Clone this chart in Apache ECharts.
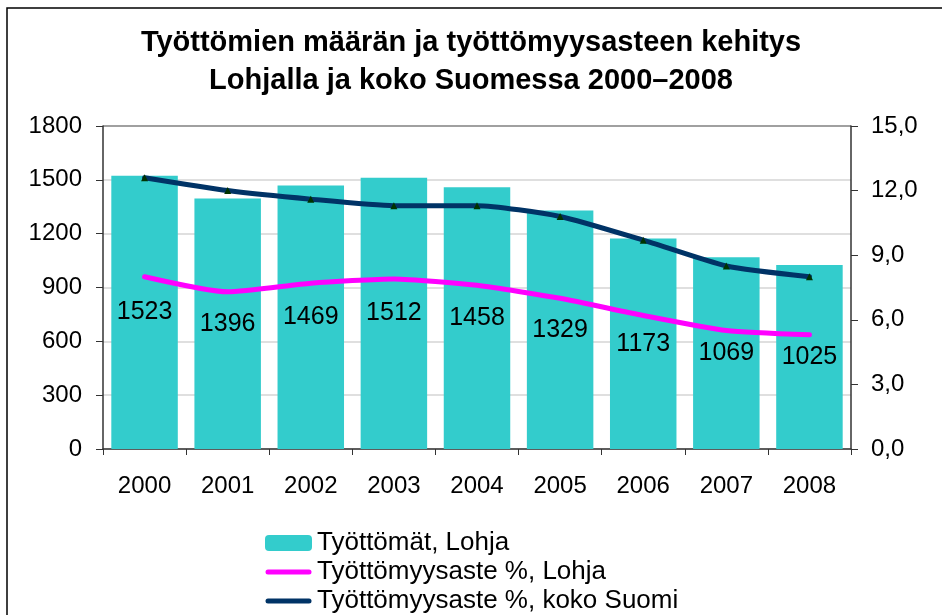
<!DOCTYPE html>
<html>
<head>
<meta charset="utf-8">
<script src="https://cdn.jsdelivr.net/npm/echarts@6/dist/echarts.min.js"></script>
<style>
  html, body { margin: 0; padding: 0; background: #fff; }
  #chart { width: 942px; height: 615px; }
</style>
</head>
<body>
<div id="chart"></div>
<script>
// Vuodet ja arvot
const vuodet = ['2000', '2001', '2002', '2003', '2004', '2005', '2006', '2007', '2008'];
const tyottomatLohja = [1523, 1396, 1469, 1512, 1458, 1329, 1173, 1069, 1025];
const asteLohja = [8.0, 7.3, 7.7, 7.9, 7.6, 7.0, 6.2, 5.5, 5.3];
const asteSuomi = [12.6, 12.0, 11.6, 11.3, 11.3, 10.8, 9.7, 8.5, 8.0];

const fontti = 'Arial, "Liberation Sans", sans-serif';
// legendan viivakuvake (paksu viiva pyöristetyin päin)
const viivaIkoni = 'path://M0,0L0,0M47,16L47,16M3,5.5A2.5,2.5,0,0,0,3,10.5L44,10.5A2.5,2.5,0,0,0,44,5.5Z';

const chart = echarts.init(document.getElementById('chart'));
const option = {
    backgroundColor: '#fff',
    animation: false,
    textStyle: { fontFamily: fontti, color: '#000' },
    title: {
        text: 'Työttömien määrän ja työttömyysasteen kehitys\nLohjalla ja koko Suomessa 2000–2008',
        left: 'center',
        top: 19,
        textStyle: {
            fontFamily: fontti,
            fontSize: 29,
            fontWeight: 'bold',
            color: '#000',
            lineHeight: 38
        }
    },
    graphic: [{
        type: 'rect',
        shape: { x: 7, y: 8, width: 960, height: 640 },
        style: { fill: 'none', stroke: '#000', lineWidth: 1.5 },
        silent: true
    }],
    legend: {
        orient: 'vertical',
        left: 265,
        top: 530,
        padding: 0,
        itemGap: 3,
        itemWidth: 47,
        itemHeight: 16,
        textStyle: { fontFamily: fontti, fontSize: 26, color: '#000' },
        data: [
            { name: 'Työttömät, Lohja' },
            { name: 'Työttömyysaste %, Lohja', icon: viivaIkoni },
            { name: 'Työttömyysaste %, koko Suomi', icon: viivaIkoni, itemStyle: { color: '#003366' } }
        ]
    },
    grid: { left: 103, right: 91, top: 126, bottom: 166 },
    xAxis: {
        type: 'category',
        data: vuodet,
        axisLine: { lineStyle: { color: '#333', width: 1.5 } },
        axisTick: { show: true, length: 6, lineStyle: { color: '#333' } },
        axisLabel: { fontSize: 24, color: '#000', margin: 25, fontFamily: fontti }
    },
    yAxis: [{
        type: 'value',
        min: 0,
        max: 1800,
        interval: 300,
        axisLine: { show: true, lineStyle: { color: '#333', width: 1.5 } },
        axisTick: { show: true, length: 7, lineStyle: { color: '#333' } },
        axisLabel: { fontSize: 24, color: '#000', margin: 21, fontFamily: fontti, formatter: v => String(v) },
        splitLine: {
            lineStyle: {
                color: ['#d4d4d4', '#d4d4d4', '#d4d4d4', '#d4d4d4', '#d4d4d4', '#d4d4d4', '#808080'],
                width: 1.5
            }
        }
    }, {
        type: 'value',
        min: 0,
        max: 15,
        interval: 3,
        position: 'right',
        axisLine: { show: true, lineStyle: { color: '#333', width: 1.5 } },
        axisTick: { show: true, length: 7, lineStyle: { color: '#333' } },
        axisLabel: {
            fontSize: 24, color: '#000', margin: 20, fontFamily: fontti,
            formatter: v => v.toFixed(1).replace('.', ',')
        },
        splitLine: { show: false }
    }],
    series: [{
        name: 'Työttömät, Lohja',
        type: 'bar',
        data: tyottomatLohja,
        barCategoryGap: '20%',
        itemStyle: { color: '#33CCCC' },
        label: {
            show: true,
            position: 'inside',
            fontSize: 25,
            color: '#000',
            fontFamily: fontti
        }
    }, {
        name: 'Työttömyysaste %, Lohja',
        type: 'line',
        yAxisIndex: 1,
        data: asteLohja,
        smooth: 0.2,
        showSymbol: false,
        symbol: 'none',
        lineStyle: { color: '#FF00FF', width: 5, cap: 'round' },
        itemStyle: { color: '#FF00FF' }
    }, {
        name: 'Työttömyysaste %, koko Suomi',
        type: 'line',
        yAxisIndex: 1,
        data: asteSuomi,
        smooth: 0.2,
        symbol: 'triangle',
        symbolSize: 7,
        lineStyle: { color: '#003366', width: 5, cap: 'round' },
        itemStyle: { color: '#003300', borderWidth: 0 }
    }]
};
chart.setOption(option);
</script>
</body>
</html>
